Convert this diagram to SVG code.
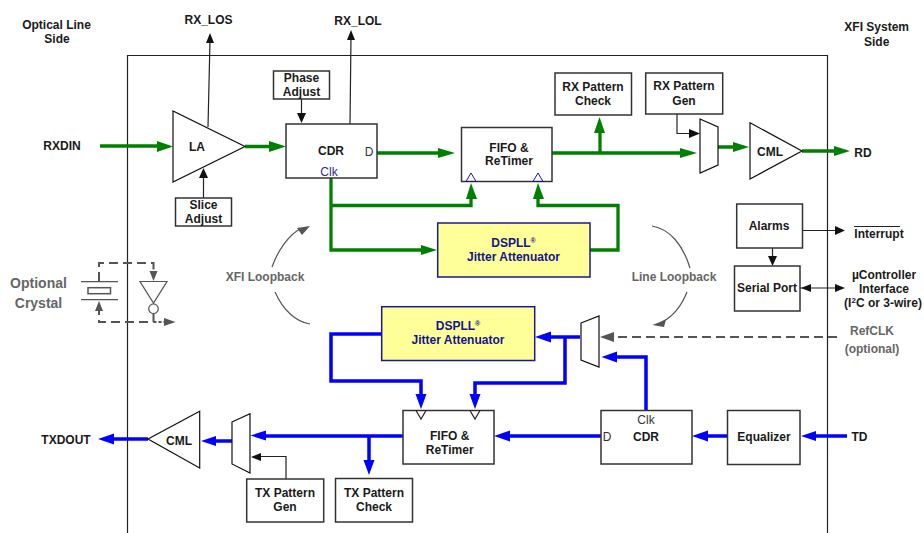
<svg xmlns="http://www.w3.org/2000/svg" width="924" height="533" viewBox="0 0 924 533">
<style>
text{font-family:"Liberation Sans",Arial,sans-serif;font-size:12px;font-weight:bold;fill:#1a1a1a;text-anchor:middle}
.b{fill:#fff;stroke:#333;stroke-width:1.5}
.s{fill:#fff;stroke:#111;stroke-width:1.2}
.y{fill:#ffff99;stroke:#1a1a8c;stroke-width:1.5}
.navy{fill:#14148c}
.gr{fill:#666}
.clk{font-weight:normal;fill:#2a2aa0}
.nor{font-weight:normal;fill:#333}
.g{fill:none;stroke:#008000;stroke-width:3.300}
.u{fill:none;stroke:#0000ff;stroke-width:3.500}
.k{fill:none;stroke:#222;stroke-width:1.200}
.d{fill:none;stroke:#555;stroke-width:2;stroke-dasharray:9 5}
.c{fill:none;stroke:#555;stroke-width:1.200}
.ag{fill:#008000}.au{fill:#0000ff}.ak{fill:#111}.ad{fill:#555}
.t{fill:none;stroke:#1a1a8c;stroke-width:1}
.l{fill:none;stroke:#555;stroke-width:1.200}
</style>
<g id="frame"><path d="M127.500 533V55.500H827.500V533" fill="none" stroke="#222" stroke-width="1.200"/></g>
<g id="connectors">
<path class="g" d="M100 146H160M245 146.500H272M377 153H442M552 153H685M600 153V131M331 178V250H425M331 205.500H471V193M590 250H618V205.500H538V193M718 147H735M802 151H843"/>
<path class="ag" d="M173 146.500L157 141V152ZM286 146.500L269 141V152ZM455 153L438 148V158ZM599.500 117L594 133H605ZM697 153L680 148V158ZM749 147L733 142V152ZM850 151L834 146V156ZM437 250L421 245V255ZM471 183L466 199H477ZM538 183L533 199H544Z"/>
<path class="u" d="M381 334H331V381H421V400M580 337H548M565 337V383H475V400M646 410V357H612M601 436H510M403 436H262M369 436V462M232 441H212M148 439H112M727 436H706M847 436H812"/>
<path class="au" d="M535 337L551 331.500V342.500ZM421 409L415.500 394H426.500ZM475 409L469.500 394H480.500ZM601.500 357L617 351.500V362.500ZM494 436L510 430.500V441.500ZM250.500 435.500L266 430.500V440.500ZM369 475L363.500 460H374.500ZM201 441L216 436V446ZM98 439L114 433.500V444.500ZM692 436L708 430.500V441.500ZM801 436L816 431V441Z"/>
<path class="k" d="M208 127L210 40M350 124L351 37M301.500 99V114M203.500 198V177M677 114V133.500H690M802.500 230.500H838M772.500 248V258M741 288H838M286 479V456.500H258"/>
<path class="ak" d="M210 33L206 43H214ZM351 30L347 40H355ZM301.500 123L297 113H306ZM203.500 168L199 178H208ZM700 133.500L689 129V138ZM845 230.500L835 226V235ZM772.500 266L768 256H777ZM801 288L811 284V292ZM845 288L835 284V292ZM251 457L261 453V461Z"/>
<path class="d" d="M837 337H612M99 281V263H153.500V272M99 306V322H153.500"/>
<path class="d" style="stroke-dasharray:none" d="M153.500 314V322"/>
<path class="d" style="stroke-dasharray:3 2" d="M153.500 322H166"/>
<path class="ad" d="M600 337L614 332V342ZM153.500 281L149.500 271H157.500ZM99 301L95 311H103ZM175.500 322L164 318V326Z"/>
<path class="c" d="M272 267C278 250 289 235 300 229M275 292C283 310 296 322 310 324M652 226C670 229 683 245 690 268M687 292C681 307 672 317 662 322"/>
<path class="ad" d="M310 226L297 228L302 235ZM652.500 325L666 319.500L664 327Z"/>
</g>
<g id="la"><path class="s" d="M173 111V182L245 146.500Z"/><text x="197" y="151">LA</text></g>
<g id="cdr-rx"><rect class="b" x="286" y="124" width="91" height="54"/><text x="331" y="155">CDR</text><text class="nor" x="369" y="156">D</text><text class="clk" x="329" y="176">Clk</text></g>
<g id="phase-adjust"><rect class="b" x="273.500" y="71" width="56" height="28"/><text x="301.500" y="82">Phase</text><text x="301.500" y="96">Adjust</text></g>
<g id="slice-adjust"><rect class="b" x="175.500" y="198" width="56" height="28"/><text x="203.500" y="209">Slice</text><text x="203.500" y="223">Adjust</text></g>
<g id="fifo-rx"><rect class="b" x="461.500" y="127.500" width="90.500" height="54"/><text x="509" y="151.500">FIFO &amp;</text><text x="509" y="165">ReTimer</text><path class="t" d="M466 181.500L471 173L476 181.500ZM533 181.500L538 173L543 181.500Z"/></g>
<g id="dspll-top"><rect class="y" x="437.700" y="223" width="152.300" height="54"/><text class="navy" x="513.500" y="247">DSPLL<tspan font-size="7" dy="-4">®</tspan></text><text class="navy" x="513.500" y="261">Jitter Attenuator</text></g>
<g id="rx-pattern-check"><rect class="b" x="555" y="73" width="76.500" height="42"/><text x="593" y="91">RX Pattern</text><text x="593" y="105">Check</text></g>
<g id="rx-pattern-gen"><rect class="b" x="645.700" y="73" width="77" height="41"/><text x="684" y="90">RX Pattern</text><text x="684" y="105">Gen</text></g>
<g id="mux-rx"><path class="s" d="M700 119L718 127V165L700 173Z"/></g>
<g id="cml-rx"><path class="s" d="M750 122.700V179L802 151Z"/><text x="770" y="156">CML</text></g>
<g id="alarms"><rect class="b" x="736.700" y="204" width="65.800" height="44"/><text x="769" y="230">Alarms</text></g>
<g id="serial-port"><rect class="b" x="734.500" y="266" width="65.500" height="45"/><text x="767" y="292">Serial Port</text></g>
<g id="dspll-bottom"><rect class="y" x="381.700" y="306.700" width="153" height="53.800"/><text class="navy" x="458" y="330">DSPLL<tspan font-size="7" dy="-4">®</tspan></text><text class="navy" x="458" y="344">Jitter Attenuator</text></g>
<g id="mux-ref"><path class="s" d="M581 323L599 316V367L581 360Z"/></g>
<g id="fifo-tx"><rect class="b" x="403" y="410.500" width="91" height="53.500"/><text x="449.700" y="440">FIFO &amp;</text><text x="449.700" y="454">ReTimer</text><path class="k" d="M416 410.500L421 419L426 410.500M470 410.500L475 419L480 410.500"/></g>
<g id="cdr-tx"><rect class="b" x="601" y="410.500" width="91" height="53.500"/><text class="nor" x="607" y="441">D</text><text class="nor" x="646" y="424">Clk</text><text x="646" y="441">CDR</text></g>
<g id="equalizer"><rect class="b" x="727.500" y="410.500" width="72.500" height="54"/><text x="764" y="441">Equalizer</text></g>
<g id="mux-tx"><path class="s" d="M232 422L250 413.700V473L232 464Z"/></g>
<g id="cml-tx"><path class="s" d="M148 439L199.700 411.300V468Z"/><text x="179" y="445">CML</text></g>
<g id="tx-pattern-gen"><rect class="b" x="246.700" y="479" width="77" height="43"/><text x="285" y="497">TX Pattern</text><text x="285" y="511">Gen</text></g>
<g id="tx-pattern-check"><rect class="b" x="335.500" y="478.500" width="77" height="43.500"/><text x="374" y="497">TX Pattern</text><text x="374" y="511">Check</text></g>
<g id="crystal">
<path class="l" d="M81 281.700H118M81 299.700H118"/>
<rect x="88" y="287.700" width="22.500" height="6" fill="none" stroke="#555" stroke-width="1.500"/>
<path class="l" d="M140 281.500H167L153.500 303Z"/>
<circle cx="153.500" cy="308.700" r="4.800" class="l"/>
<text class="gr" x="38.500" y="287.500" style="font-size:14px">Optional</text><text class="gr" x="38.500" y="308" style="font-size:14px">Crystal</text>
</g>
<g id="labels">
<text x="56.500" y="29">Optical Line</text><text x="57" y="43">Side</text>
<text x="208.500" y="23.500">RX_LOS</text><text x="358" y="25">RX_LOL</text>
<text x="876.700" y="31">XFI System</text><text x="876.700" y="46">Side</text>
<text x="62" y="150">RXDIN</text><text x="863" y="157">RD</text>
<text class="gr" x="265" y="281">XFI Loopback</text><text class="gr" x="674" y="281">Line Loopback</text>
<text x="879" y="238">Interrupt</text><path d="M854 226.500H900" stroke="#222" stroke-width="1"/>
<text x="884" y="279">µController</text><text x="884" y="293">Interface</text><text x="883" y="307">(I<tspan font-size="8" dy="-4">2</tspan><tspan dy="4">C or 3-wire)</tspan></text>
<text class="gr" x="872" y="335">RefCLK</text><text class="gr" x="872" y="353">(optional)</text>
<text x="66" y="444">TXDOUT</text><text x="859.500" y="441">TD</text>
</g>
</svg>
